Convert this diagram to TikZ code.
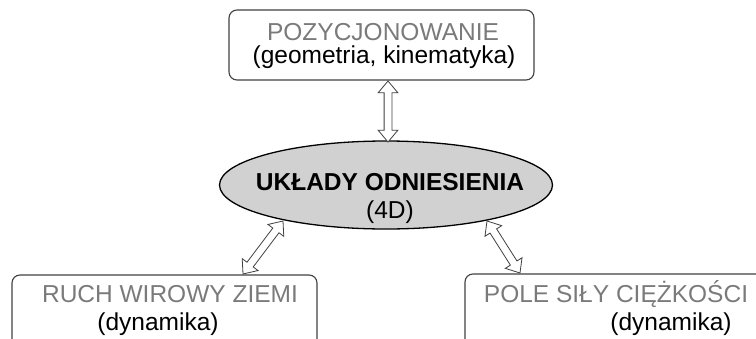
\documentclass[tikz,border=0pt]{standalone}
\usepackage{fontspec}
\setmainfont{Liberation Sans}
\usetikzlibrary{arrows.meta,shapes.geometric,shapes.arrows,calc}
\definecolor{txtgray}{gray}{0.48}
\definecolor{boxline}{gray}{0.25}
\definecolor{ellfill}{gray}{0.82}
\tikzset{
  box/.style={draw=boxline,line width=1.1pt,rounded corners=8pt,minimum width=305pt,inner sep=0pt},
  ell/.style={ellipse,draw=black,line width=1.3pt,fill=ellfill,minimum width=333pt,minimum height=88pt,inner sep=0pt},
  lbl/.style={anchor=base,inner sep=0pt,font=\fontsize{24.5}{28}\selectfont},
  dblarrow/.style={double arrow,draw=boxline,fill=white,line width=0.8pt,inner xsep=0pt,inner ysep=3.5pt,
    double arrow head extend=6pt,double arrow tip angle=80,double arrow head indent=0pt}
}
\newcommand{\hollowarrow}[2]{%
  \path let \p1=(#1),\p2=(#2),\n1={atan2(\y2-\y1,\x2-\x1)},\n2={veclen(\x2-\x1,\y2-\y1)} in
    node[dblarrow,rotate=\n1,minimum height=\n2] at ($(#1)!0.5!(#2)$) {};}
\begin{document}
\begin{tikzpicture}[x=1pt,y=-1pt]
\useasboundingbox (0,0) rectangle (756,338);
\clip (0,0) rectangle (756,338);
\node[box,minimum height=70pt] (top) at (381.5,45) {};
\node[box,minimum height=100pt] (left) at (164.5,325) {};
\node[box,minimum height=100pt] (right) at (617.5,324) {};
\node[ell] (center) at (386,185) {};
\node[lbl,text=txtgray] (t1) at (383,40) {POZYCJONOWANIE};
\node[lbl] (t2) at (384,63) {(geometria, kinematyka)};
\node[lbl,font=\fontsize{24.5}{28}\selectfont\bfseries] (c1) at (390,190) {UKŁADY ODNIESIENIA};
\node[lbl] (c2) at (390,218) {(4D)};
\node[lbl,text=txtgray] (l1) at (170,302) {RUCH WIROWY ZIEMI};
\node[lbl] (l2) at (158,330) {(dynamika)};
\node[lbl,text=txtgray] (r1) at (616,302) {POLE SIŁY CIĘŻKOŚCI};
\node[lbl] (r2) at (671,330) {(dynamika)};
\coordinate (a1) at (388,81);
\coordinate (a2) at (388,142);
\coordinate (b1) at (283,221);
\coordinate (b2) at (243,274);
\coordinate (c1a) at (487,221);
\coordinate (c2a) at (520,273);
\hollowarrow{a1}{a2}
\hollowarrow{b1}{b2}
\hollowarrow{c1a}{c2a}
\end{tikzpicture}
\end{document}
